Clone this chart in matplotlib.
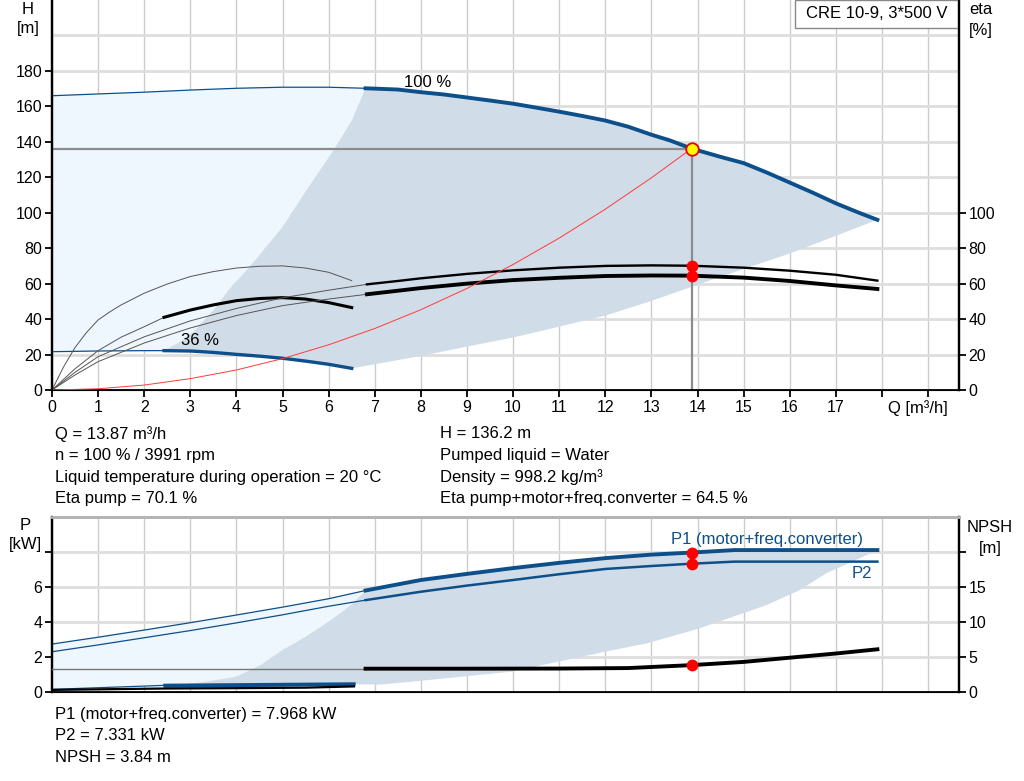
import matplotlib

matplotlib.use("Agg")
import matplotlib.pyplot as plt
from matplotlib.patches import Rectangle

plt.rcParams["font.family"] = ["Liberation Sans", "DejaVu Sans"]

# ---- duty point ----
Q_DUTY, H_DUTY = 13.87, 136.2
ETA_PUMP_DUTY, ETA_TOT_DUTY = 70.1, 64.5
P1_DUTY, P2_DUTY, NPSH_DUTY = 7.968, 7.331, 3.84

# ---- QH, 100 % speed (thin = outside range, thick = allowed range) ----
qh_q_thin = [0, 1, 2, 3, 4, 5, 6, 6.8]
qh_h_thin = [166, 167, 168, 169.2, 170.2, 170.8, 170.8, 170.2]
qh_q = [6.8, 7.5, 8, 8.5, 9, 9.5, 10, 10.5, 11, 11.5, 12, 12.5, 13, 13.4, 13.87,
        14.5, 15, 15.5, 16, 16.5, 17, 17.5, 17.9]
qh_h = [170.2, 169.5, 168, 166.7, 165, 163.3, 161.5, 159.3, 157, 154.6, 152, 148.5,
        144, 140.8, 136.2, 131.5, 128, 122.7, 117, 111.3, 105.3, 100, 96]

# ---- QH, 36 % speed ----
qh36_q_thin = [0, 1, 2, 2.43]
qh36_h_thin = [21.6, 22, 22.2, 22.2]
qh36_q = [2.43, 3, 3.5, 4, 4.5, 5, 5.5, 6, 6.5]
qh36_h = [22.2, 22, 21.2, 20.1, 19.1, 17.9, 16.3, 14.5, 12.2]

# ---- left / lower edges of the operating range ----
edge_left_q = [2.43, 2.8, 3.07, 3.5, 3.86, 4.2, 4.5, 5.0, 5.5, 6.1, 6.5, 6.8]
edge_left_h = [22.2, 27.5, 32.9, 45, 57.4, 67, 76.2, 92, 112, 135, 152, 170.2]
edge_low_q = [6.5, 8, 9, 10, 10.8, 12, 12.97, 14.4, 16, 17.9]
edge_low_h = [12.2, 19.2, 24.5, 29.6, 34.5, 42, 50, 63, 77, 96]

# ---- system curve ----
sys_q = [0, 1, 2, 3, 4, 5, 6, 7, 8, 9, 10, 11, 12, 13, 13.87]
sys_h = [0, 0.7, 2.8, 6.4, 11.3, 17.7, 25.5, 34.7, 45.3, 57.3, 70.8, 85.7, 102, 119.7, 136.2]

# ---- efficiencies [%] ----
eta36_pump_q = [0, 0.25, 0.5, 0.75, 1, 1.25, 1.5, 2, 2.5, 3, 3.5, 4, 4.5, 5, 5.5, 6, 6.5]
eta36_pump = [0, 13, 24, 32.5, 39.5, 44, 48, 54.6, 59.8, 64, 66.8, 68.8, 69.8, 70,
              68.8, 66.4, 61.7]
eta36_tot_q_thin = [0, 0.5, 1, 1.5, 2, 2.43]
eta36_tot_thin = [0, 12, 22.2, 29.8, 35.7, 41]
eta36_tot_q = [2.43, 3, 3.5, 4, 4.5, 5, 5.5, 6, 6.5]
eta36_tot = [41, 45.1, 48, 50.4, 51.6, 52.1, 51.3, 49.3, 46.5]

eta_pump_q_thin = [0, 0.5, 1, 2, 3, 4, 5, 6, 6.83]
eta_pump_thin = [0, 10, 18.8, 30, 39, 46, 52, 56.3, 59.6]
eta_pump_q = [6.83, 7.5, 8, 9, 10, 11, 12, 13, 13.87, 15, 16, 17, 17.9]
eta_pump = [59.6, 61.5, 63, 65.5, 67.5, 69, 70, 70.3, 70.1, 69, 67.3, 65, 61.7]

eta_tot_q_thin = [0, 0.5, 1, 2, 3, 4, 5, 6, 6.83]
eta_tot_thin = [0, 8.5, 16, 26.5, 35, 42, 47.6, 51.3, 54]
eta_tot_q = [6.83, 7.5, 8, 9, 10, 11, 12, 13, 13.87, 15, 16, 17, 17.9]
eta_tot = [54, 56, 57.5, 60, 62, 63.3, 64.3, 64.6, 64.5, 63.4, 61.5, 59, 57]

# ---- power [kW] ----
p1_q_thin = [0, 1, 2, 3, 4, 5, 6, 6.8]
p1_thin = [2.74, 3.13, 3.54, 3.96, 4.4, 4.85, 5.33, 5.8]
p1_q = [6.8, 8, 9, 10, 11, 12, 13, 13.87, 14.8, 17.9]
p1 = [5.8, 6.4, 6.75, 7.08, 7.38, 7.65, 7.85, 7.968, 8.11, 8.11]
p2_q_thin = [0, 1, 2, 3, 4, 5, 6, 6.8]
p2_thin = [2.3, 2.69, 3.1, 3.51, 3.95, 4.41, 4.9, 5.25]
p2_q = [6.8, 8, 9, 10, 11, 12, 13, 13.87, 14.8, 17.9]
p2 = [5.25, 5.73, 6.08, 6.4, 6.73, 7.03, 7.2, 7.331, 7.45, 7.45]

p36_q_thin = [0, 2.45]
p1_36_thin = [0.15, 0.38]
p36_q = [2.45, 6.55]
p1_36 = [0.38, 0.46]
p2_36 = [0.3, 0.4]

pedge_left_q = [2.45, 3.07, 3.6, 4.0, 4.5, 5.0, 5.5, 6.0, 6.5, 6.8]
pedge_left = [0.34, 0.5, 0.7, 0.88, 1.5, 2.4, 3.16, 4.02, 5.0, 5.8]
pedge_low_q = [6.55, 7.1, 7.8, 9.96, 11.9, 12.9, 14.0, 15.5, 16.2, 16.8, 17.4, 17.9]
pedge_low = [0.44, 0.42, 0.59, 1.16, 2.25, 2.78, 3.6, 4.97, 5.8, 6.8, 7.5, 8.11]

# ---- NPSH [m] ----
npsh_q_thin = [0, 6.8]
npsh_thin = [3.33, 3.33]
npsh_q = [6.8, 9, 11, 12.5, 13.87, 15, 16, 17, 17.9]
npsh = [3.33, 3.33, 3.35, 3.42, 3.84, 4.3, 4.9, 5.5, 6.1]
npsh36_q = [0, 2.45, 4, 5.5, 6.55]
npsh36 = [0.3, 0.5, 0.55, 0.62, 0.8]

q_ticks = list(range(0, 20))
h_ticks = list(range(0, 181, 20))
eta_ticks = list(range(0, 101, 20))
p_ticks = [0, 2, 4, 6, 8]
npsh_ticks = [0, 5, 10, 15, 20]

BLUE = "#0d4f8b"
FILL_LIGHT = "#eef6fe"
FILL_DARK = "#d0dce8"
THIN = "#555555"
W, H = 1024, 781
XMAX = 19.67
TICK_FS = 11.5
FS = 12

fig = plt.figure(figsize=(W / 100, H / 100), dpi=100, facecolor="white")
ax_h = fig.add_axes([52 / W, 1 - 390 / H, 907 / W, 390 / H])
ax_p = fig.add_axes([52 / W, 1 - 692 / H, 907 / W, 175 / H])


def style(ax, ymax, hgrid):
    ax.set_xlim(0, XMAX)
    ax.set_ylim(0, ymax)
    for q in q_ticks:
        ax.axvline(q, color="#cccccc", lw=1, zorder=0.5)
    for y in hgrid:
        ax.axhline(y, color="#dedede", lw=2, zorder=0.5)
    ax.spines["left"].set_linewidth(1.6)
    ax.spines["right"].set_linewidth(1.6)
    ax.spines["bottom"].set_linewidth(1.3)
    ax.tick_params(axis="y", direction="out", length=5, width=1.3, labelsize=TICK_FS, pad=2)


# ================= top panel =================
style(ax_h, 220, range(20, 201, 20))
ax_h.spines["top"].set_visible(False)
ax_h.set_xticks(q_ticks)
ax_h.set_xticklabels([str(q) if q <= 17 else "" for q in q_ticks])
ax_h.tick_params(axis="x", direction="out", length=5, width=1.3, labelsize=TICK_FS, pad=2)
ax_h.set_yticks(h_ticks)

light_q = qh_q_thin + edge_left_q[::-1] + qh36_q_thin[::-1]
light_h = qh_h_thin + edge_left_h[::-1] + qh36_h_thin[::-1]
ax_h.fill(light_q, light_h, color=FILL_LIGHT, lw=0, zorder=1)
dark_q = qh_q + edge_low_q[::-1] + qh36_q[::-1] + edge_left_q
dark_h = qh_h + edge_low_h[::-1] + qh36_h[::-1] + edge_left_h
ax_h.fill(dark_q, dark_h, color=FILL_DARK, lw=0, zorder=1)

ax_h.plot([0, Q_DUTY], [H_DUTY, H_DUTY], color="#8c8c8c", lw=1.6, zorder=2)
ax_h.plot([Q_DUTY, Q_DUTY], [0, H_DUTY], color="#8c8c8c", lw=1.6, zorder=2)

ax_h.plot(qh_q_thin, qh_h_thin, color=BLUE, lw=0.9, zorder=3)
ax_h.plot(qh_q, qh_h, color=BLUE, lw=2.8, zorder=3)
ax_h.plot(qh36_q_thin, qh36_h_thin, color=BLUE, lw=0.9, zorder=3)
ax_h.plot(qh36_q, qh36_h, color=BLUE, lw=2.4, zorder=3)

ax_h.plot(eta36_pump_q, eta36_pump, color=THIN, lw=0.7, zorder=3)
ax_h.plot(eta36_tot_q_thin, eta36_tot_thin, color=THIN, lw=0.7, zorder=3)
ax_h.plot(eta36_tot_q, eta36_tot, color="black", lw=2.2, zorder=3)
ax_h.plot(eta_pump_q_thin, eta_pump_thin, color=THIN, lw=0.7, zorder=3)
ax_h.plot(eta_pump_q, eta_pump, color="black", lw=1.7, zorder=3)
ax_h.plot(eta_tot_q_thin, eta_tot_thin, color=THIN, lw=0.7, zorder=3)
ax_h.plot(eta_tot_q, eta_tot, color="black", lw=2.8, zorder=3)

ax_h.plot(sys_q, sys_h, color="#ff3b3b", lw=0.7, zorder=4)
ax_h.plot([Q_DUTY, Q_DUTY], [ETA_PUMP_DUTY, ETA_TOT_DUTY], "o", color="#ff0000",
          ms=8.5, mec="none", zorder=5)
ax_h.plot(Q_DUTY, H_DUTY, "o", color="#ffff00", mec="#ee0000", mew=1.3, ms=9, zorder=5)

ax_h.text(8.15, 173.5, "100 %", fontsize=FS, ha="center", va="center", zorder=6)
ax_h.text(3.2, 28, "36 %", fontsize=FS, ha="center", va="center", zorder=6)

ax_h.add_patch(Rectangle(((795 - 52) / 907, 1 - 28 / 390), (958 - 795) / 907, 28 / 390,
                         transform=ax_h.transAxes, fc="white", ec="#888888", lw=1, zorder=7))
ax_h.text(((795 + 958) / 2 - 52) / 907, 1 - 14 / 390, "CRE 10-9, 3*500 V",
          transform=ax_h.transAxes, fontsize=FS, ha="center", va="center", zorder=8)

ax_eta = ax_h.twinx()
ax_eta.set_ylim(0, 220)
ax_eta.set_yticks(eta_ticks)
for s in ("left", "right"):
    ax_eta.spines[s].set_linewidth(1.6)
ax_eta.spines["top"].set_visible(False)
ax_eta.tick_params(axis="y", direction="out", length=5, width=1.3, labelsize=TICK_FS, pad=2)

fig.text(28 / W, 1 - 9 / H, "H", fontsize=FS, ha="center", va="center")
fig.text(28 / W, 1 - 29 / H, "[m]", fontsize=FS, ha="center", va="center")
fig.text(981 / W, 1 - 10 / H, "eta", fontsize=FS, ha="center", va="center")
fig.text(981 / W, 1 - 30 / H, "[%]", fontsize=FS, ha="center", va="center")
fig.text(918 / W, 1 - 408 / H, "Q [m³/h]", fontsize=FS, ha="center", va="center")

info_left = ["Q = 13.87 m³/h", "n = 100 % / 3991 rpm",
             "Liquid temperature during operation = 20 °C", "Eta pump = 70.1 %"]
info_right = ["H = 136.2 m", "Pumped liquid = Water", "Density = 998.2 kg/m³",
              "Eta pump+motor+freq.converter = 64.5 %"]
for i, (a, b) in enumerate(zip(info_left, info_right)):
    y = 1 - (434 + 21.6 * i) / H
    fig.text(55 / W, y, a, fontsize=FS, va="center")
    fig.text(440 / W, y, b, fontsize=FS, va="center")

# ================= bottom panel =================
style(ax_p, 10, [2, 4, 6, 8])
ax_p.spines["top"].set_color("#b4b4b4")
ax_p.spines["top"].set_linewidth(2)
ax_p.set_xticks([])
ax_p.set_yticks(p_ticks)
ax_p.set_yticklabels([str(v) if v < 8 else "" for v in p_ticks])

plight_q = p1_q_thin + pedge_left_q[::-1] + p36_q_thin[::-1]
plight = p1_thin + pedge_left[::-1] + p1_36_thin[::-1]
ax_p.fill(plight_q, plight, color=FILL_LIGHT, lw=0, zorder=1)
pdark_q = p1_q + pedge_low_q[::-1] + [p36_q[0]] + pedge_left_q
pdark = p1 + pedge_low[::-1] + [p1_36[0]] + pedge_left
ax_p.fill(pdark_q, pdark, color=FILL_DARK, lw=0, zorder=1)

ax_p.plot(p1_q_thin, p1_thin, color=BLUE, lw=0.9, zorder=3)
ax_p.plot(p1_q, p1, color=BLUE, lw=2.8, zorder=3)
ax_p.plot(p2_q_thin, p2_thin, color=BLUE, lw=0.9, zorder=3)
ax_p.plot(p2_q, p2, color=BLUE, lw=1.8, zorder=3)
ax_p.plot(p36_q_thin, p1_36_thin, color=BLUE, lw=0.9, zorder=3)
ax_p.plot(p36_q, p1_36, color=BLUE, lw=2.4, zorder=3)
ax_p.plot(p36_q, p2_36, color=BLUE, lw=1.4, zorder=3)
ax_p.plot([Q_DUTY, Q_DUTY], [P1_DUTY, P2_DUTY], "o", color="#ff0000", ms=8.5,
          mec="none", zorder=5)
ax_p.text(15.5, 8.74, "P1 (motor+freq.converter)", color=BLUE, fontsize=FS,
          ha="center", va="center", zorder=6)
ax_p.text(17.57, 6.8, "P2", color=BLUE, fontsize=FS, ha="center", va="center", zorder=6)

ax_n = ax_p.twinx()
ax_n.set_ylim(0, 25)
ax_n.set_yticks(npsh_ticks)
ax_n.set_yticklabels([str(v) if v < 20 else "" for v in npsh_ticks])
for s in ("left", "right"):
    ax_n.spines[s].set_linewidth(1.6)
ax_n.spines["top"].set_color("#b4b4b4")
ax_n.spines["top"].set_linewidth(2)
ax_n.tick_params(axis="y", direction="out", length=5, width=1.3, labelsize=TICK_FS, pad=2)
ax_n.plot(npsh_q_thin, npsh_thin, color="#777777", lw=1, zorder=3)
ax_n.plot(npsh_q, npsh, color="black", lw=2.8, zorder=3)
ax_n.plot(npsh36_q, npsh36, color="black", lw=1.6, zorder=3)
ax_n.plot(Q_DUTY, NPSH_DUTY, "o", color="#ff0000", ms=8.5, mec="none", zorder=5)

fig.text(25 / W, 1 - 525 / H, "P", fontsize=FS, ha="center", va="center")
fig.text(25 / W, 1 - 545 / H, "[kW]", fontsize=FS, ha="center", va="center")
fig.text(990 / W, 1 - 528 / H, "NPSH", fontsize=FS, ha="center", va="center")
fig.text(990 / W, 1 - 548 / H, "[m]", fontsize=FS, ha="center", va="center")

info_bottom = ["P1 (motor+freq.converter) = 7.968 kW", "P2 = 7.331 kW", "NPSH = 3.84 m"]
for i, s in enumerate(info_bottom):
    fig.text(55 / W, 1 - (714 + 21.6 * i) / H, s, fontsize=FS, va="center")

fig.savefig("out.png", dpi=100, facecolor="white")
